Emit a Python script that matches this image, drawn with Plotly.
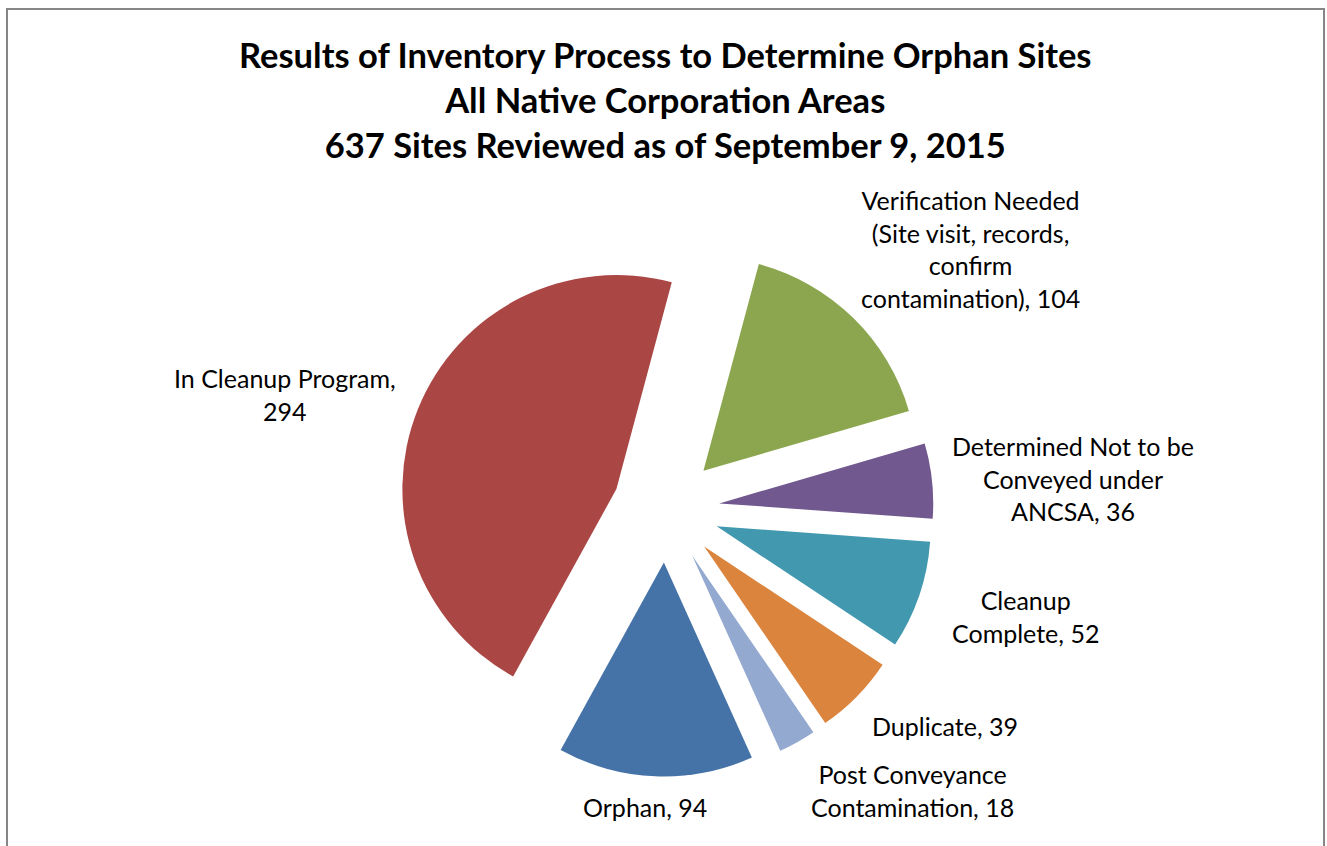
import plotly.graph_objects as go

W, H = 1327, 846

# slices in clockwise order, first slice starting 15 deg past 12 o'clock
categories = [
    "Verification Needed (Site visit, records, confirm contamination)",
    "Determined Not to be Conveyed under ANCSA",
    "Cleanup Complete",
    "Duplicate",
    "Post Conveyance Contamination",
    "Orphan",
    "In Cleanup Program",
]
site_counts = [104, 36, 52, 39, 18, 94, 294]

# label text as laid out on the chart (line breaks)
label_lines = [
    ["Verification Needed", "(Site visit, records,", "confirm", "contamination), {v}"],
    ["Determined Not to be", "Conveyed under", "ANCSA, {v}"],
    ["Cleanup", "Complete, {v}"],
    ["Duplicate, {v}"],
    ["Post Conveyance", "Contamination, {v}"],
    ["Orphan, {v}"],
    ["In Cleanup Program,", "{v}"],
]
# label centres in pixels (x, y of middle of the text block)
label_pos = [(970, 249), (1073, 478), (1025, 616), (945, 726),
             (912, 790), (645, 807), (285, 394)]

colors = ["#8BA64E", "#71588F", "#4198AF", "#DB843D", "#93A9CF", "#4572A7", "#AA4644"]

fig = go.Figure()
fig.add_trace(go.Pie(
    labels=categories,
    values=site_counts,
    sort=False,
    direction="clockwise",
    rotation=15,
    pull=0.25,
    textinfo="none",
    hoverinfo="label+value",
    marker=dict(colors=colors, line=dict(width=0)),
    domain=dict(x=[0.3003, 0.7035], y=[0.0821, 0.7145]),
    showlegend=False,
))

annotations = []
for lines, v, (px, py) in zip(label_lines, site_counts, label_pos):
    txt = "<br>".join(l.format(v=v) for l in lines)
    annotations.append(dict(
        x=px / W, y=1 - py / H, xref="paper", yref="paper",
        text=txt, showarrow=False, align="center",
        xanchor="center", yanchor="middle",
        font=dict(family="Lato", size=25, color="#000000"),
    ))

title_lines = [
    "Results of Inventory Process to Determine Orphan Sites",
    "All Native Corporation Areas",
    "637 Sites Reviewed as of September 9, 2015",
]
annotations.append(dict(
    x=665 / W, y=1 - 99 / H, xref="paper", yref="paper",
    text="<b>" + "<br>".join(title_lines) + "</b>",
    showarrow=False, align="center", xanchor="center", yanchor="middle",
    font=dict(family="Lato", size=34.5, color="#000000"),
))

fig.update_layout(
    width=W, height=H,
    margin=dict(l=0, r=0, t=0, b=0),
    paper_bgcolor="white",
    plot_bgcolor="white",
    annotations=annotations,
    shapes=[dict(type="rect", xref="paper", yref="paper",
                 x0=7 / W, x1=1324 / W, y0=-0.05, y1=1 - 9 / H,
                 line=dict(color="#868686", width=2))],
)

# drop the default 8px body margin so the figure sits at the window corner
fig.write_html("out.html", config={"displayModeBar": False},
               post_script="document.body.style.margin='0';")
